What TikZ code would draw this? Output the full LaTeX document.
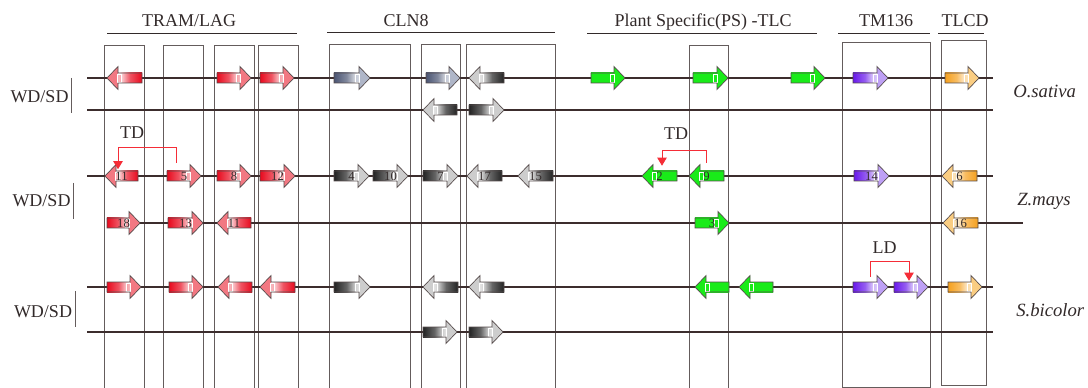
\documentclass[tikz,border=0pt]{standalone}
\usepackage{fontspec}
\setmainfont{Liberation Serif}
\usetikzlibrary{calc,arrows.meta}

% gene colours: tail / head tints
\definecolor{redT}{RGB}{232,10,30}
\definecolor{redH}{RGB}{242,120,130}
\definecolor{bgT}{RGB}{75,85,115}
\definecolor{bgH}{RGB}{175,182,200}
\definecolor{gyT}{RGB}{35,35,35}
\definecolor{gyH}{RGB}{205,205,205}
\definecolor{grn}{RGB}{25,235,25}
\definecolor{purT}{RGB}{105,25,235}
\definecolor{purH}{RGB}{190,160,245}
\definecolor{orT}{RGB}{245,160,30}
\definecolor{orH}{RGB}{250,205,130}
\definecolor{edge}{RGB}{85,75,75}
\definecolor{ink}{RGB}{50,42,42}
\definecolor{boxc}{RGB}{100,92,92}
\definecolor{chromc}{RGB}{60,45,45}
\definecolor{tdred}{RGB}{245,45,55}

\tikzset{
  genebody/.style={draw=none, inner sep=0pt, minimum height=7.5pt,
    font=\fontsize{9.5}{10}\selectfont, text=ink},
  hdr/.style={anchor=base, font=\fontsize{13.5}{16}\selectfont, text=ink, inner sep=0pt},
  species/.style={anchor=base west, font=\fontsize{14}{16}\selectfont\itshape, text=ink, inner sep=0pt},
  rule/.style={draw=ink, line width=0.75pt},
  famgroup/.style={draw=boxc, line width=0.7pt},
  chrom/.style={draw=chromc, line width=1.6pt},
  conn/.style={draw=tdred, line width=0.65pt, -{Triangle[width=7pt,length=6pt]}},
}

% gene arrow: #1 name, #2 tail x, #3 tip x, #4 y, #5 tail colour,
% #6 colour near the head, #7 head colour, #8 number
\newcommand\genearrow[8]{%
  \pgfmathsetmacro\gS{sign(#3-#2)}%
  \pgfmathsetmacro\gB{#3-11*\gS}%
  \pgfmathsetmacro\gM{(#2+#3)/2}%
  \pgfmathsetmacro\gW{abs(#3-#2)*0.75}%
  \ifdim\gS pt>0pt \def\gL{#5}\def\gR{#6}\else\def\gL{#6}\def\gR{#5}\fi
  \path[left color=\gL, right color=\gR, middle color=#5!70!#6] (#2,#4-5) rectangle (\gB,#4+5);
  \fill[#7] (\gB,#4-11.5) -- (#3,#4) -- (\gB,#4+11.5) -- cycle;
  \draw[white, line width=0.6pt, fill=#7, fill opacity=0.5]
    ({\gB-3.5*\gS},#4-4) rectangle ({\gB+0.5*\gS},#4+4);
  \draw[edge, line width=0.5pt, line join=miter]
    (#2,#4-5) -- (\gB,#4-5) -- (\gB,#4-11.5) -- (#3,#4) -- (\gB,#4+11.5)
    -- (\gB,#4+5) -- (#2,#4+5) -- cycle;
  \node[genebody, minimum width=\gW pt] (#1) at (\gM,#4) {#8};
}
\newcommand\redgene[5]{\genearrow{#1}{#2}{#3}{#4}{redT}{white}{redH}{#5}}
\newcommand\bluegene[5]{\genearrow{#1}{#2}{#3}{#4}{bgT}{white}{bgH}{#5}}
\newcommand\graygene[5]{\genearrow{#1}{#2}{#3}{#4}{gyT}{white}{gyH}{#5}}
\newcommand\greengene[5]{\genearrow{#1}{#2}{#3}{#4}{grn}{grn}{grn}{#5}}
\newcommand\purplegene[5]{\genearrow{#1}{#2}{#3}{#4}{purT}{white}{purH}{#5}}
\newcommand\orangegene[5]{\genearrow{#1}{#2}{#3}{#4}{orT}{white}{orH}{#5}}

\begin{document}
\begin{tikzpicture}[x=0.75pt, y=-0.75pt]
\clip (0,0) rectangle (1088,388);
\fill[white] (0,0) rectangle (1088,388);

% family headers
\node[hdr] (hTRAM) at (189,26.7) {TRAM/LAG};
\node[hdr] (hCLN)  at (406,26.7) {CLN8};
\node[hdr] (hPS)   at (703,26.5) {Plant Specific(PS) -TLC};
\node[hdr] (hTM)   at (886,26.7) {TM136};
\node[hdr] (hTLCD) at (965,26.7) {TLCD};
\draw[rule] (107,34) -- (297,34);
\draw[rule] (327,33) -- (555,33);
\draw[rule] (587,34) -- (817,34);
\draw[rule] (838,34) -- (930,34);
\draw[rule] (938,34) -- (984,34);

% orthologue groups
\draw[famgroup] (104,45) rectangle (144,392);
\draw[famgroup] (163,45) rectangle (203,392);
\draw[famgroup] (214,45) rectangle (254,392);
\draw[famgroup] (258,45) rectangle (298,392);
\draw[famgroup] (329,44) rectangle (410,392);
\draw[famgroup] (421,44) rectangle (460,392);
\draw[famgroup] (466,44) rectangle (555,392);
\draw[famgroup] (689,45) rectangle (728,392);
\draw[famgroup] (842,42) rectangle (930,387);
\draw[famgroup] (941,40) rectangle (986,385);

% chromosomes
\draw[chrom] (87,78) -- (993,78);
\draw[chrom] (87,110) -- (993,110);
\draw[chrom] (87,176) -- (993,176);
\draw[chrom] (107,223) -- (1023,223);
\draw[chrom] (87,287) -- (993,287);
\draw[chrom] (87,332) -- (993,332);

% WD/SD brackets
\node[hdr] (wd1) at (39.5,102.7) {WD/SD};
\node[hdr] (wd2) at (41.5,206.7) {WD/SD};
\node[hdr] (wd3) at (43,317.3) {WD/SD};
\draw[draw=boxc, line width=0.75pt] (71,78) -- (71,113);
\draw[draw=boxc, line width=0.75pt] (73,183) -- (73,219);
\draw[draw=boxc, line width=0.75pt] (75,291) -- (75,327);

% species
\node[species] (os) at (1013,97.3) {O.sativa};
\node[species] (zm) at (1017,206) {Z.mays};
\node[species] (sb) at (1016,316.7) {S.bicolor};

% O. sativa
\redgene{os1}{142}{107}{78}{}
\redgene{os2}{217}{251}{78}{}
\redgene{os3}{260}{294}{78}{}
\bluegene{os4}{334}{370}{78}{}
\bluegene{os5}{426}{460}{78}{}
\graygene{os6}{504}{469}{78}{}
\greengene{os7}{591}{625}{78}{}
\greengene{os8}{693}{728}{78}{}
\greengene{os9}{791}{825}{78}{}
\purplegene{os10}{853}{888}{78}{}
\orangegene{os11}{945}{979}{78}{}
\graygene{os12}{457}{423}{110}{}
\graygene{os13}{469}{504}{110}{}

% Z. mays
\redgene{zm11}{138}{105}{176}{11}
\redgene{zm5}{167}{201}{176}{5}
\redgene{zm8}{217}{251}{176}{8}
\redgene{zm12}{260}{295}{176}{12}
\graygene{zm4}{334}{369}{176}{4}
\graygene{zm10}{373}{408}{176}{10}
\graygene{zm7}{423}{458}{176}{7}
\graygene{zm17}{502}{467}{176}{17}
\graygene{zm15}{553}{518}{176}{15}
\greengene{zm2}{677}{642}{176}{2}
\greengene{zm9}{724}{689}{176}{9}
\purplegene{zm14}{854}{889}{176}{14}
\orangegene{zm6}{977}{942}{176}{6}
\redgene{zm18}{107}{140}{223}{18}
\redgene{zm13}{168}{203}{223}{13}
\redgene{zm11b}{251}{217}{223}{11}
\greengene{zm3}{695}{729}{223}{3}
\orangegene{zm16}{978}{943}{223}{16}

% S. bicolor
\redgene{sb1}{107}{141}{287}{}
\redgene{sb2}{169}{203}{287}{}
\redgene{sb3}{252}{218}{287}{}
\redgene{sb4}{295}{260}{287}{}
\graygene{sb5}{334}{370}{287}{}
\graygene{sb6}{458}{423}{287}{}
\graygene{sb7}{504}{469}{287}{}
\greengene{sb8}{729}{695}{287}{}
\greengene{sb9}{773}{739}{287}{}
\purplegene{sb10}{853}{888}{287}{}
\purplegene{sb11}{894}{928}{287}{}
\orangegene{sb12}{948}{982}{287}{}
\graygene{sb13}{423}{457}{332}{}
\graygene{sb14}{469}{503}{332}{}

% duplication events
\draw[conn] ($(zm5.north)+(-8,-8)$) -- ++(0,-15) -| ($(zm11.north)+(-3.5,-1.5)$);
\node[hdr] (td1) at (132,138.3) {TD};
\draw[conn] ($(zm9.north)+(-0.5,-8)$) -- ++(0,-12) -| ($(zm2.north)+(2.5,-5)$);
\node[hdr] (td2) at (676,140) {TD};
\draw[conn] ($(sb10.north)+(-0.5,-5)$) -- ++(0,-15) -| ($(sb11.north)+(-2,-1)$);
\node[hdr] (ld) at (884.5,253.3) {LD};
\end{tikzpicture}
\end{document}
